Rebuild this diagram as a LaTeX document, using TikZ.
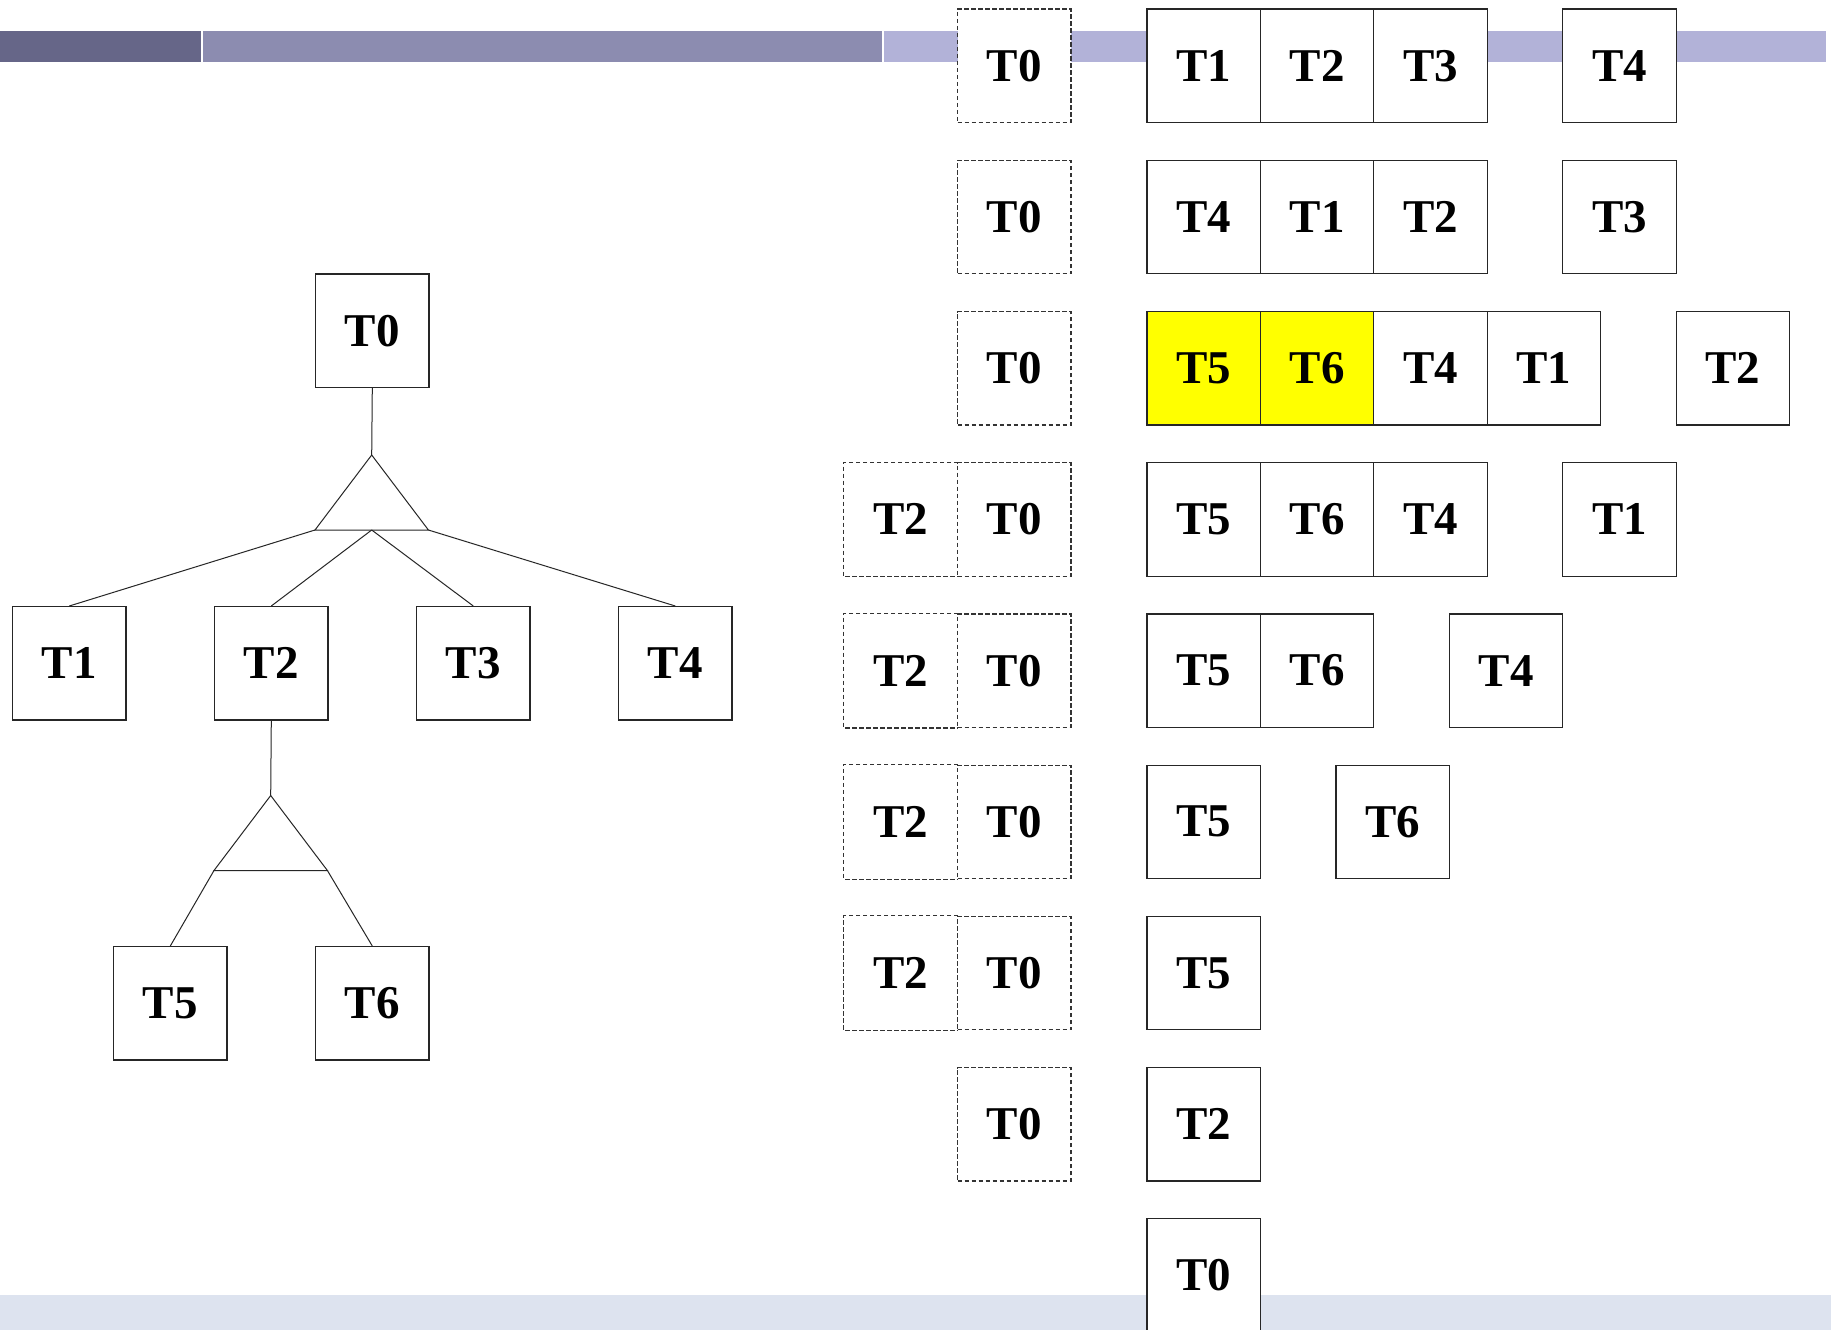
\documentclass[tikz,border=0pt]{standalone}
\usepackage{fontspec}
\setmainfont{Liberation Serif}
\definecolor{bardark}{HTML}{666688}
\definecolor{barmid}{HTML}{8C8CB0}
\definecolor{barlight}{HTML}{B2B2D8}
\definecolor{barbottom}{HTML}{DDE3EF}
\definecolor{hlyellow}{HTML}{FFFF00}
\begin{document}
\begin{tikzpicture}[x=1pt,y=-1pt,
  tbox/.style={draw=black!85, line width=1.2pt, fill=white, minimum width=113.4pt,
    minimum height=113.4pt, inner sep=0pt, anchor=north west,
    font=\fontsize{47}{50}\selectfont\bfseries},
  dline/.style={draw=black!80, line width=1.2pt, dash pattern=on 4.5pt off 2.5pt},
  dbox/.style={tbox, dline},
  obox/.style={tbox, draw=none},
  hl/.style={fill=hlyellow},
  link/.style={draw=black!85, line width=1pt}]
\clip (0,0) rectangle (1831,1330);
\fill[white] (0,0) rectangle (1831,1330);
% bars
\fill[bardark] (0,31) rectangle (201,62);
\fill[barmid] (203,31) rectangle (882,62);
\fill[barlight] (884,31) rectangle (1826,62);
\fill[barbottom] (0,1295) rectangle (1831,1330);

% ---------- tree ----------
\node[tbox] (t0) at (315,273.3) {T0};
\node[tbox] (t1) at (12,606) {T1};
\node[tbox] (t2) at (214,606) {T2};
\node[tbox] (t3) at (416,606) {T3};
\node[tbox] (t4) at (618,606) {T4};
\node[tbox] (t5) at (113,946) {T5};
\node[tbox] (t6) at (315,946) {T6};
\coordinate (a1) at (371.7,455);
\coordinate (b1l) at (315,530);
\coordinate (b1m) at (371.7,530);
\coordinate (b1r) at (428.4,530);
\draw[link] (t0.south) -- (a1);
\draw[link] (a1) -- (b1l) -- (b1r) -- cycle;
\draw[link] (b1l) -- (t1.north);
\draw[link] (b1m) -- (t2.north);
\draw[link] (b1m) -- (t3.north);
\draw[link] (b1r) -- (t4.north);
\coordinate (a2) at (270.7,795.5);
\coordinate (b2l) at (214,870.5);
\coordinate (b2r) at (327.4,870.5);
\draw[link] (t2.south) -- (a2);
\draw[link] (a2) -- (b2l) -- (b2r) -- cycle;
\draw[link] (b2l) -- (t5.north);
\draw[link] (b2r) -- (t6.north);

% ---------- stack trace ----------
\def\bw{113.4}
\def\sx{1146.4}
\def\gp{75.6}
\def\dx{957}
\def\ex{843.6}
% row 0
\node[dbox] (r0d) at (\dx,8.5) {T0};
\node[tbox] (r0a) at (\sx,8.5) {T1};
\node[tbox] (r0b) at ({\sx+\bw},8.5) {T2};
\node[tbox] (r0c) at ({\sx+2*\bw},8.5) {T3};
\node[tbox] (r0x) at ({\sx+3*\bw+\gp},8.5) {T4};
% row 1
\node[dbox] (r1d) at (\dx,159.7) {T0};
\node[tbox] (r1a) at (\sx,159.7) {T4};
\node[tbox] (r1b) at ({\sx+\bw},159.7) {T1};
\node[tbox] (r1c) at ({\sx+2*\bw},159.7) {T2};
\node[tbox] (r1x) at ({\sx+3*\bw+\gp},159.7) {T3};
% row 2
\node[dbox] (r2d) at (\dx,310.9) {T0};
\node[tbox,hl] (r2a) at (\sx,310.9) {T5};
\node[tbox,hl] (r2b) at ({\sx+\bw},310.9) {T6};
\node[tbox] (r2c) at ({\sx+2*\bw},310.9) {T4};
\node[tbox] (r2e) at ({\sx+3*\bw},310.9) {T1};
\node[tbox] (r2x) at ({\sx+4*\bw+\gp},310.9) {T2};
% row 3
\node[obox] (r3e) at (\ex,462.1) {T2};
\draw[dline] (r3e.north east) -- (r3e.north west) -- (r3e.south west) -- (r3e.south east);
\node[dbox] (r3d) at (\dx,462.1) {T0};
\node[tbox] (r3a) at (\sx,462.1) {T5};
\node[tbox] (r3b) at ({\sx+\bw},462.1) {T6};
\node[tbox] (r3c) at ({\sx+2*\bw},462.1) {T4};
\node[tbox] (r3x) at ({\sx+3*\bw+\gp},462.1) {T1};
% row 4
\node[obox] (r4e) at (\ex,613.3) {T2};
\draw[dline] (r4e.north east) -- (r4e.north west) -- (r4e.south west) -- (r4e.south east);
\node[dbox] (r4d) at (\dx,613.3) {T0};
\node[tbox] (r4a) at (\sx,613.3) {T5};
\node[tbox] (r4b) at ({\sx+\bw},613.3) {T6};
\node[tbox] (r4x) at ({\sx+2*\bw+\gp},613.3) {T4};
% row 5
\node[obox] (r5e) at (\ex,764.5) {T2};
\draw[dline] (r5e.north east) -- (r5e.north west) -- (r5e.south west) -- (r5e.south east);
\node[dbox] (r5d) at (\dx,764.5) {T0};
\node[tbox] (r5a) at (\sx,764.5) {T5};
\node[tbox] (r5x) at ({\sx+\bw+\gp},764.5) {T6};
% row 6
\node[obox] (r6e) at (\ex,915.7) {T2};
\draw[dline] (r6e.north east) -- (r6e.north west) -- (r6e.south west) -- (r6e.south east);
\node[dbox] (r6d) at (\dx,915.7) {T0};
\node[tbox] (r6a) at (\sx,915.7) {T5};
% row 7
\node[dbox] (r7d) at (\dx,1066.9) {T0};
\node[tbox] (r7a) at (\sx,1066.9) {T2};
% row 8
\node[tbox] (r8a) at (\sx,1218.1) {T0};
\end{tikzpicture}
\end{document}
